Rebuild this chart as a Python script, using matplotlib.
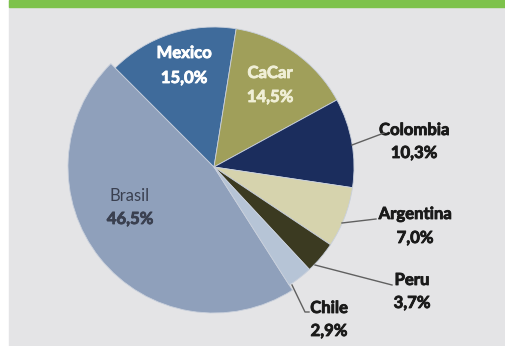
import numpy as np
import matplotlib.pyplot as plt
import matplotlib.patheffects as pe
from matplotlib.patches import Rectangle

# data
countries = ["Brasil", "Mexico", "CaCar", "Colombia", "Argentina", "Peru", "Chile"]
shares = [46.5, 15.0, 14.5, 10.3, 7.0, 3.7, 2.9]
share_labels = ["46,5%", "15,0%", "14,5%", "10,3%", "7,0%", "3,7%", "2,9%"]

colors = ["#8fa0bb", "#3f6b9b", "#a09f5a", "#1b2d5d", "#d6d3ad", "#3b3a21", "#b6c4d6"]

plt.rcParams['font.family'] = ['Lato', 'DejaVu Sans']

fig = plt.figure(figsize=(5.05, 3.46), dpi=100)
fig.patch.set_facecolor("white")
ax = fig.add_axes([0, 0, 1, 1])

# background panel and green header strip
ax.add_patch(Rectangle((9, 0), 496, 346, color="#e4e4e6", zorder=0))
ax.add_patch(Rectangle((9, 339), 496, 7, color="#7dc24b", zorder=1))

wedges, _ = ax.pie(shares, colors=colors, startangle=302.5, counterclock=False,
                   center=(214, 179), radius=140,
                   wedgeprops=dict(edgecolor="#c9d0dc", linewidth=0.6),
                   frame=True)
# Brasil sticks out a little in the original (3D look)
wedges[0].set_radius(146)

ax.set_xlim(0, 505)
ax.set_ylim(0, 346)
ax.set_aspect("equal")
ax.axis("off")

fs = 12

def heavy(col):
    return [pe.withStroke(linewidth=0.6, foreground=col)]

# labels inside the pie: (x, y of name, y of value), in image pixels from top
inner = {
    "Brasil": (130, 196, 219, "#3a4050", "normal"),
    "Mexico": (184, 53, 78, "white", "bold"),
    "CaCar": (270, 73, 97, "#f0efd6", "bold"),
}
for name, (x, y1, y2, col, w) in inner.items():
    i = countries.index(name)
    ax.text(x, 346 - y1, name, ha="center", va="center", fontsize=fs,
            color=col, fontweight=w,
            path_effects=heavy(col) if w == "bold" else None)
    ax.text(x, 346 - y2, share_labels[i], ha="center", va="center",
            fontsize=fs, color=col, fontweight="bold", path_effects=heavy(col))

# labels outside with leader lines
outer = {
    "Colombia": (414, 130, 153, [(352, 145), (384, 133)]),
    "Argentina": (415, 214, 238, [(342, 223), (376, 219)]),
    "Peru": (412, 280, 303, [(315, 265), (392, 285)]),
    "Chile": (329, 308, 331, [(292, 285), (305, 312), (309, 312)]),
}
for name, (x, y1, y2, pts) in outer.items():
    i = countries.index(name)
    ax.text(x, 346 - y1, name, ha="center", va="center", fontsize=fs,
            color="#1a1a1a", fontweight="bold", path_effects=heavy("#1a1a1a"))
    ax.text(x, 346 - y2, share_labels[i], ha="center", va="center",
            fontsize=fs, color="#1a1a1a", fontweight="bold",
            path_effects=heavy("#1a1a1a"))
    px = [p[0] for p in pts]
    py = [346 - p[1] for p in pts]
    ax.plot(px, py, color="#606060", lw=1, zorder=3)

fig.savefig("out.png", dpi=100)
